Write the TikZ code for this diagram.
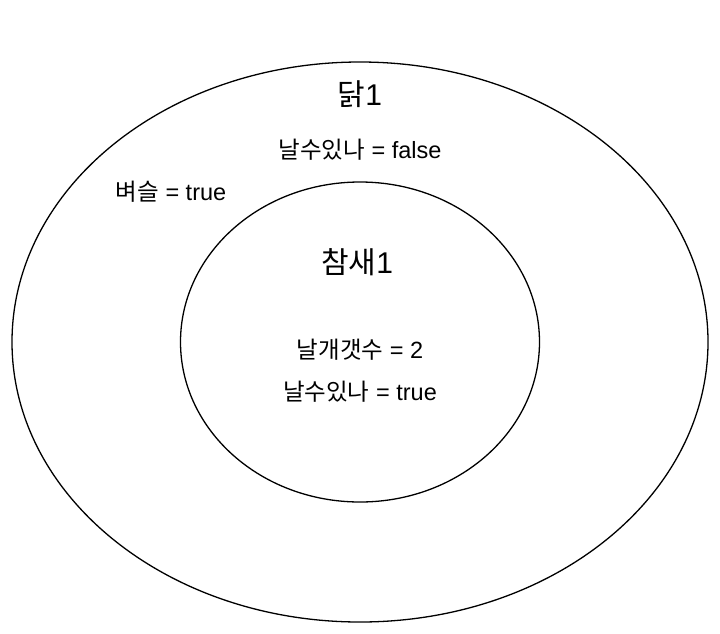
\documentclass[tikz,border=0pt]{standalone}
\usepackage{fontspec}
\setmainfont{Liberation Sans}
\newfontfamily\krfont{Noto Sans CJK KR}
\newcommand{\kr}[1]{{\krfont #1}}
\usetikzlibrary{positioning}

\begin{document}
\begin{tikzpicture}[x=1pt, y=-1pt,
        attr/.style={font=\fontsize{23.5}{27}\selectfont, inner sep=0pt},
        title/.style={font=\fontsize{30}{34}\selectfont, inner sep=0pt}]
            \useasboundingbox (0, 0) rectangle (720, 633);
            \coordinate (origin) at (360, 342);

            % outer object
            \draw[black, line width=1.3pt] (origin) ellipse [x radius=348, y radius=280];
            \node[title] (chicken) at (360, 94) {\kr{닭}1};
            \node[attr] (chicken_fly) at (360, 150) {\kr{날수있나} = false};
            \node[attr] (chicken_comb) at (171, 192) {\kr{벼슬} = true};

            % inner object
            \draw[black, line width=1.3pt] (origin) ellipse [x radius=179.5, y radius=160];
            \node[title] (sparrow) at (357, 262) {\kr{참새}1};
            \node[attr] (sparrow_wings) at (360, 350) {\kr{날개갯수} = 2};
            \node[attr] (sparrow_fly) at (360, 392) {\kr{날수있나} = true};

        \end{tikzpicture}
\end{document}
